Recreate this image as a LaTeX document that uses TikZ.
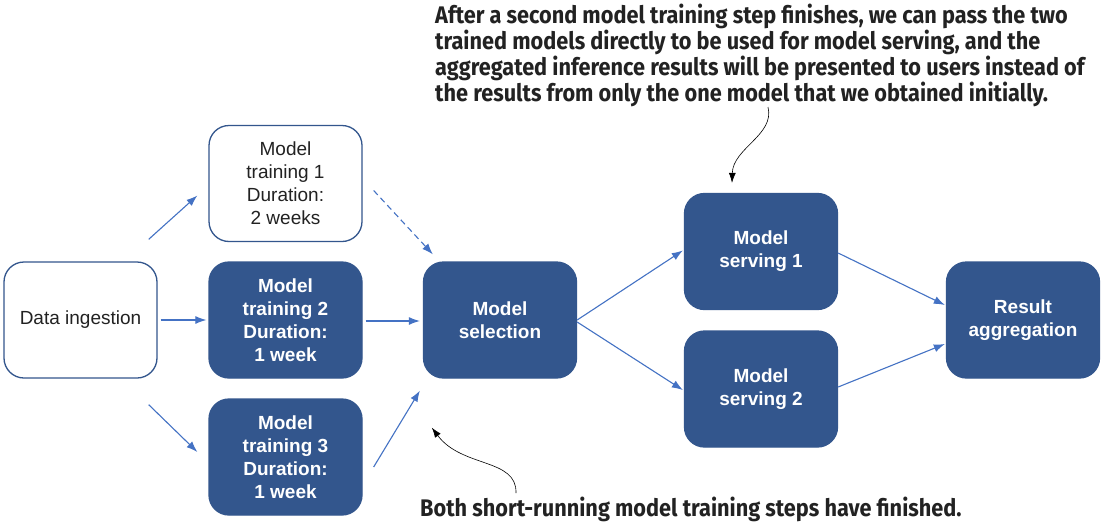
\documentclass[tikz,border=0pt]{standalone}
\usepackage{fontspec}
\setmainfont{Liberation Sans}
\newfontfamily\annfont[FakeStretch=0.905]{Fira Sans}
\usetikzlibrary{arrows.meta,calc}
\definecolor{boxblue}{RGB}{51,86,141}
\definecolor{arrblue}{RGB}{68,114,196}
\definecolor{txtgray}{RGB}{34,34,34}
\begin{document}
\begin{tikzpicture}[x=1pt,y=-1pt,
  basebox/.style={rounded corners=20pt, minimum width=153pt, minimum height=116pt,
    line width=1.3pt, align=center, inner sep=2pt},
  wbox/.style={basebox, draw=boxblue, fill=white, text=txtgray,
    font=\fontsize{19}{23}\selectfont},
  bbox/.style={basebox, draw=boxblue, fill=boxblue, text=white,
    font=\fontsize{19}{23}\selectfont\bfseries},
  arr/.style={draw=arrblue, line width=1.1pt, -{Latex[length=11pt,width=8pt]}},
  note/.style={draw=black, line width=0.6pt, -{Latex[length=10pt,width=7pt]}},
  anntext/.style={font=\fontsize{24}{26}\selectfont\annfont\bfseries, text=txtgray, inner sep=0pt, align=left}
]
\useasboundingbox (0,0) rectangle (1103,525);
\fill[white] (0,0) rectangle (1103,525);

\node[wbox] (din) at (80.5,320) {Data ingestion};
\node[wbox] (t1) at (285.5,183.5) {Model\\training 1\\Duration:\\2 weeks};
\node[bbox] (t2) at (285.5,320) {Model\\training 2\\Duration:\\1 week};
\node[bbox] (t3) at (285.5,457) {Model\\training 3\\Duration:\\1 week};
\node[bbox] (sel) at (500,320) {Model\\selection};
\node[bbox] (s1) at (761,251.5) {Model\\serving 1};
\node[bbox] (s2) at (761,389) {Model\\serving 2};
\node[bbox] (res) at (1023,320) {Result\\aggregation};

% connectors
\draw[arr] ([shift={(-9,-22)}]din.north east) -- ([shift={(-11,12)}]t1.west);
\draw[arr] ([shift={(3,0)}]din.east) -- ([shift={(-2,0)}]t2.west);
\draw[arr] ([shift={(-9,26)}]din.south east) -- ([shift={(-11,-5)}]t3.west);
\draw[arr,dashed,dash pattern=on 6pt off 4pt] ([shift={(11,7)}]t1.east) -- ([shift={(10,-7)}]sel.north west);
\draw[arr] ([shift={(3,1)}]t2.east) -- ([shift={(-3,1)}]sel.west);
\draw[arr] ([shift={(11,10)}]t3.east) -- ([shift={(-3,12)}]sel.south west);
\draw[arr] (sel.east) -- ([shift={(-1,-1)}]s1.west);
\draw[arr] ([shift={(0,2)}]sel.east) -- ([shift={(-1,1)}]s2.west);
\draw[arr] ([shift={(0,1.5)}]s1.east) -- ([shift={(-1,-15)}]res.west);
\draw[arr] ([shift={(0,-2)}]s2.east) -- ([shift={(-1,24)}]res.west);

% annotations
\node[anntext, anchor=north west] (ann1) at (435,4) {After a second model training step finishes, we can pass the two\\trained models directly to be used for model serving, and the\\aggregated inference results will be presented to users instead of\\the results from only the one model that we obtained initially.};
\node[anntext, anchor=base west] (ann2) at (420,516) {Both short-running model training steps have finished.};

\coordinate (c1) at (768,107);
\draw[note] (c1) .. controls (775,135) and (733,148) .. ([shift={(-29,-10)}]s1.north);
\coordinate (c2) at (516,493);
\draw[note] (c2) .. controls (517,458) and (462,468) .. ([shift={(9,49)}]sel.south west);
\end{tikzpicture}
\end{document}
